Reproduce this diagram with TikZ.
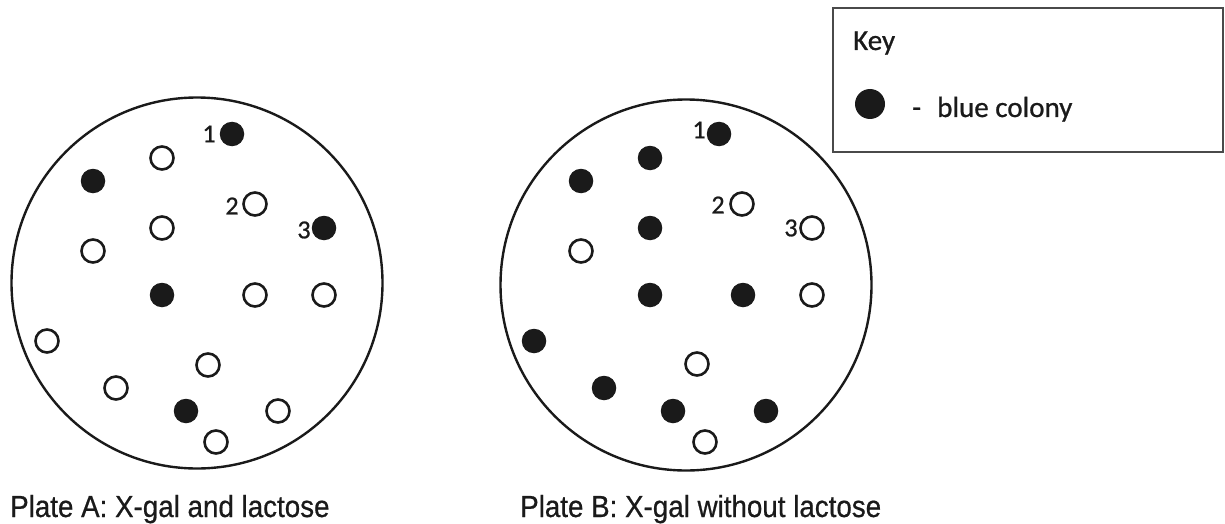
\documentclass[tikz,border=0pt]{standalone}
\usepackage{fontspec}
\newfontfamily\keyfont[FakeBold=0.8]{Carlito}
\newfontfamily\platefont[FakeStretch=0.91,FakeBold=0.6]{Liberation Sans}
\definecolor{ink}{HTML}{1A1A1A}
\definecolor{boxline}{HTML}{4A4A4A}
\begin{document}
\begin{tikzpicture}[x=1pt,y=-1pt,
  plate/.style={circle, draw=ink, line width=2.4pt, minimum size=371pt, inner sep=0pt},
  bluecol/.style={circle, fill=ink, minimum size=24.5pt, inner sep=0pt},
  whitecol/.style={circle, draw=ink, line width=2.6pt, fill=white, minimum size=23pt, inner sep=0pt},
  num/.style={font=\keyfont\fontsize{26}{28}\selectfont, text=ink, inner sep=0pt},
  caption/.style={font=\platefont\fontsize{30.5}{33}\selectfont, text=ink, inner sep=0pt, anchor=base west},
  keytext/.style={font=\keyfont\fontsize{29}{31}\selectfont, text=ink, inner sep=0pt, anchor=base west},
  keybox/.style={draw=boxline, line width=1.8pt, fill=white}
]
\useasboundingbox (0,0) rectangle (1225,524);

% ---------- Plate A ----------
\node[plate] (plateA) at (197,283) {};
\node[bluecol]  (a1)  at (232,134) {};
\node[whitecol] (a2)  at (162,158) {};
\node[bluecol]  (a3)  at (93,181) {};
\node[whitecol] (a4)  at (255,204) {};
\node[bluecol]  (a5)  at (324,228) {};
\node[whitecol] (a6)  at (162,228) {};
\node[whitecol] (a7)  at (93,251) {};
\node[bluecol]  (a8)  at (162,295) {};
\node[whitecol] (a9)  at (255,295) {};
\node[whitecol] (a10) at (324,295) {};
\node[whitecol] (a11) at (47,341) {};
\node[whitecol] (a12) at (208,365) {};
\node[whitecol] (a13) at (116,388) {};
\node[bluecol]  (a14) at (186,411) {};
\node[whitecol] (a15) at (278,411) {};
\node[whitecol] (a16) at (216,442) {};
\node[num] (na1) at (209,134) {1};
\node[num] (na2) at (232,206) {2};
\node[num] (na3) at (304,230) {3};
\node[caption] (capA) at (10,517) {Plate A: X-gal and lactose};

% ---------- Plate B ----------
\node[plate] (plateB) at (686,285) {};
\node[bluecol]  (b1)  at (719,134) {};
\node[bluecol]  (b2)  at (650,158) {};
\node[bluecol]  (b3)  at (581,181) {};
\node[whitecol] (b4)  at (742,204) {};
\node[whitecol] (b5)  at (812,228) {};
\node[bluecol]  (b6)  at (650,228) {};
\node[whitecol] (b7)  at (581,251) {};
\node[bluecol]  (b8)  at (650,295) {};
\node[bluecol]  (b9)  at (743,295) {};
\node[whitecol] (b10) at (812,295) {};
\node[bluecol]  (b11) at (534,341) {};
\node[whitecol] (b12) at (697,364) {};
\node[bluecol]  (b13) at (604,388) {};
\node[bluecol]  (b14) at (673,411) {};
\node[bluecol]  (b15) at (766,411) {};
\node[whitecol] (b16) at (705,442) {};
\node[num] (nb1) at (699,130) {1};
\node[num] (nb2) at (718,205) {2};
\node[num] (nb3) at (791,228) {3};
\node[caption] (capB) at (520,517) {Plate B: X-gal without lactose};

% ---------- Key ----------
\node[keybox, minimum width=390pt, minimum height=144pt, inner sep=0pt] (key) at (1028,80) {};
\node[keytext] (keytitle) at (853,50) {Key};
\node[bluecol, minimum size=30pt] (keydot) at (870,104) {};
\node[keytext] (keydash) at (912,117) {-};
\node[keytext] (keylabel) at (937,117) {blue colony};
\end{tikzpicture}
\end{document}
